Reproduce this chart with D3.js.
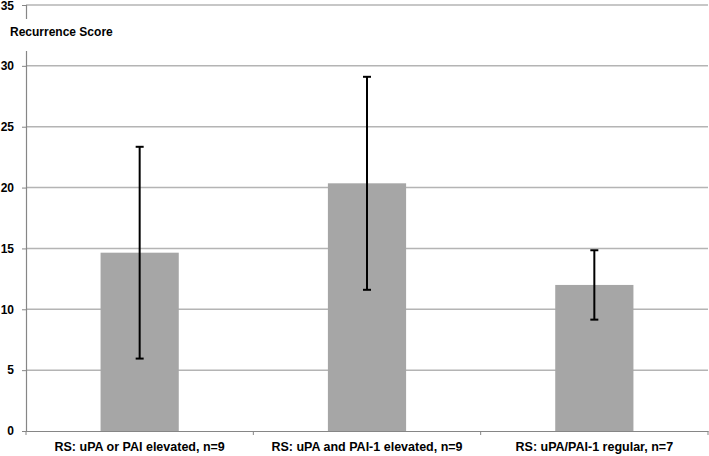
<!DOCTYPE html>
<html>
<head>
<meta charset="utf-8">
<script src="https://cdn.jsdelivr.net/npm/d3@7"></script>
<style>
  body { margin: 0; background: #fff; }
  text { font-family: "Liberation Sans", Arial, sans-serif; font-weight: bold; fill: #000; }
</style>
</head>
<body>
<div id="chart"></div>
<script>
const categories = ["RS: uPA or PAI elevated, n=9", "RS: uPA and PAI-1 elevated, n=9", "RS: uPA/PAI-1 regular, n=7"];
const means = [14.65, 20.35, 12.0];
const errors = [8.7, 8.75, 2.85];
const yTicks = [0, 5, 10, 15, 20, 25, 30, 35];

const svgWidth = 709;
const svgHeight = 456;
const margin = { top: 5, right: 1, bottom: 25, left: 26 };
const width = svgWidth - margin.left - margin.right;
const height = svgHeight - margin.top - margin.bottom;

const svg = d3.select("#chart")
    .append("svg")
    .attr("width", svgWidth)
    .attr("height", svgHeight)
    .append("g")
    .attr("transform", "translate(" + margin.left + "," + margin.top + ")");

const xScale = d3.scaleBand()
    .domain(categories)
    .range([0, width])
    .paddingInner(0.656)
    .paddingOuter(0.328);

const yScale = d3.scaleLinear()
    .domain([0, 35])
    .range([height, 0]);

// gridlines
svg.selectAll("line.grid")
    .data(yTicks.filter(d => d > 0))
    .enter().append("line")
    .attr("class", "grid")
    .attr("x1", 0)
    .attr("x2", width)
    .attr("y1", d => yScale(d))
    .attr("y2", d => yScale(d))
    .attr("stroke", "#b4b4b4")
    .attr("stroke-width", 1.5);

// y axis
const yAxis = d3.axisLeft(yScale).tickValues(yTicks).tickSize(4).tickPadding(8);
const yG = svg.append("g").call(yAxis);
yG.select(".domain").attr("stroke", "#868686").attr("stroke-width", 1.2);
yG.selectAll(".tick line").attr("stroke", "#868686");
yG.selectAll(".tick text").style("font-size", "12px");
// keep the top label inside the page
yG.selectAll(".tick text").filter(d => d === 35).attr("dy", "0.4em");

// bars
svg.selectAll("rect.bar")
    .data(categories)
    .enter().append("rect")
    .attr("class", "bar")
    .attr("x", d => xScale(d))
    .attr("width", xScale.bandwidth())
    .attr("y", (d, i) => yScale(means[i]))
    .attr("height", (d, i) => height - yScale(means[i]))
    .attr("fill", "#a6a6a6");

// x axis
const xAxis = d3.axisBottom(xScale).tickSize(0).tickPadding(11);
const xG = svg.append("g")
    .attr("transform", "translate(0," + height + ")")
    .call(xAxis);
xG.select(".domain").attr("stroke", "#868686").attr("stroke-width", 1.2);
xG.selectAll(".tick text").style("font-size", "12.5px");

// category boundary ticks
const step = xScale.step();
svg.selectAll("line.ctick")
    .data(d3.range(categories.length + 1))
    .enter().append("line")
    .attr("class", "ctick")
    .attr("x1", i => i * step)
    .attr("x2", i => i * step)
    .attr("y1", height)
    .attr("y2", height + 4)
    .attr("stroke", "#868686");

// error bars
const eb = svg.selectAll("g.err")
    .data(categories)
    .enter().append("g")
    .attr("class", "err")
    .attr("transform", d => "translate(" + (xScale(d) + xScale.bandwidth() / 2) + ",0)");

eb.append("line")
    .attr("y1", (d, i) => yScale(means[i] + errors[i]))
    .attr("y2", (d, i) => yScale(means[i] - errors[i]))
    .attr("stroke", "#000")
    .attr("stroke-width", 2);

eb.append("line")
    .attr("x1", -4).attr("x2", 4)
    .attr("y1", (d, i) => yScale(means[i] + errors[i]))
    .attr("y2", (d, i) => yScale(means[i] + errors[i]))
    .attr("stroke", "#000")
    .attr("stroke-width", 2);

eb.append("line")
    .attr("x1", -4).attr("x2", 4)
    .attr("y1", (d, i) => yScale(means[i] - errors[i]))
    .attr("y2", (d, i) => yScale(means[i] - errors[i]))
    .attr("stroke", "#000")
    .attr("stroke-width", 2);

// axis title with white background
const title = svg.append("g").attr("transform", "translate(-16,31)");
title.append("rect")
    .attr("x", -2).attr("y", -17)
    .attr("width", 106).attr("height", 32)
    .attr("fill", "#fff");
title.append("text")
    .attr("x", 0).attr("y", 0)
    .style("font-size", "12px")
    .text("Recurrence Score");
</script>
</body>
</html>
